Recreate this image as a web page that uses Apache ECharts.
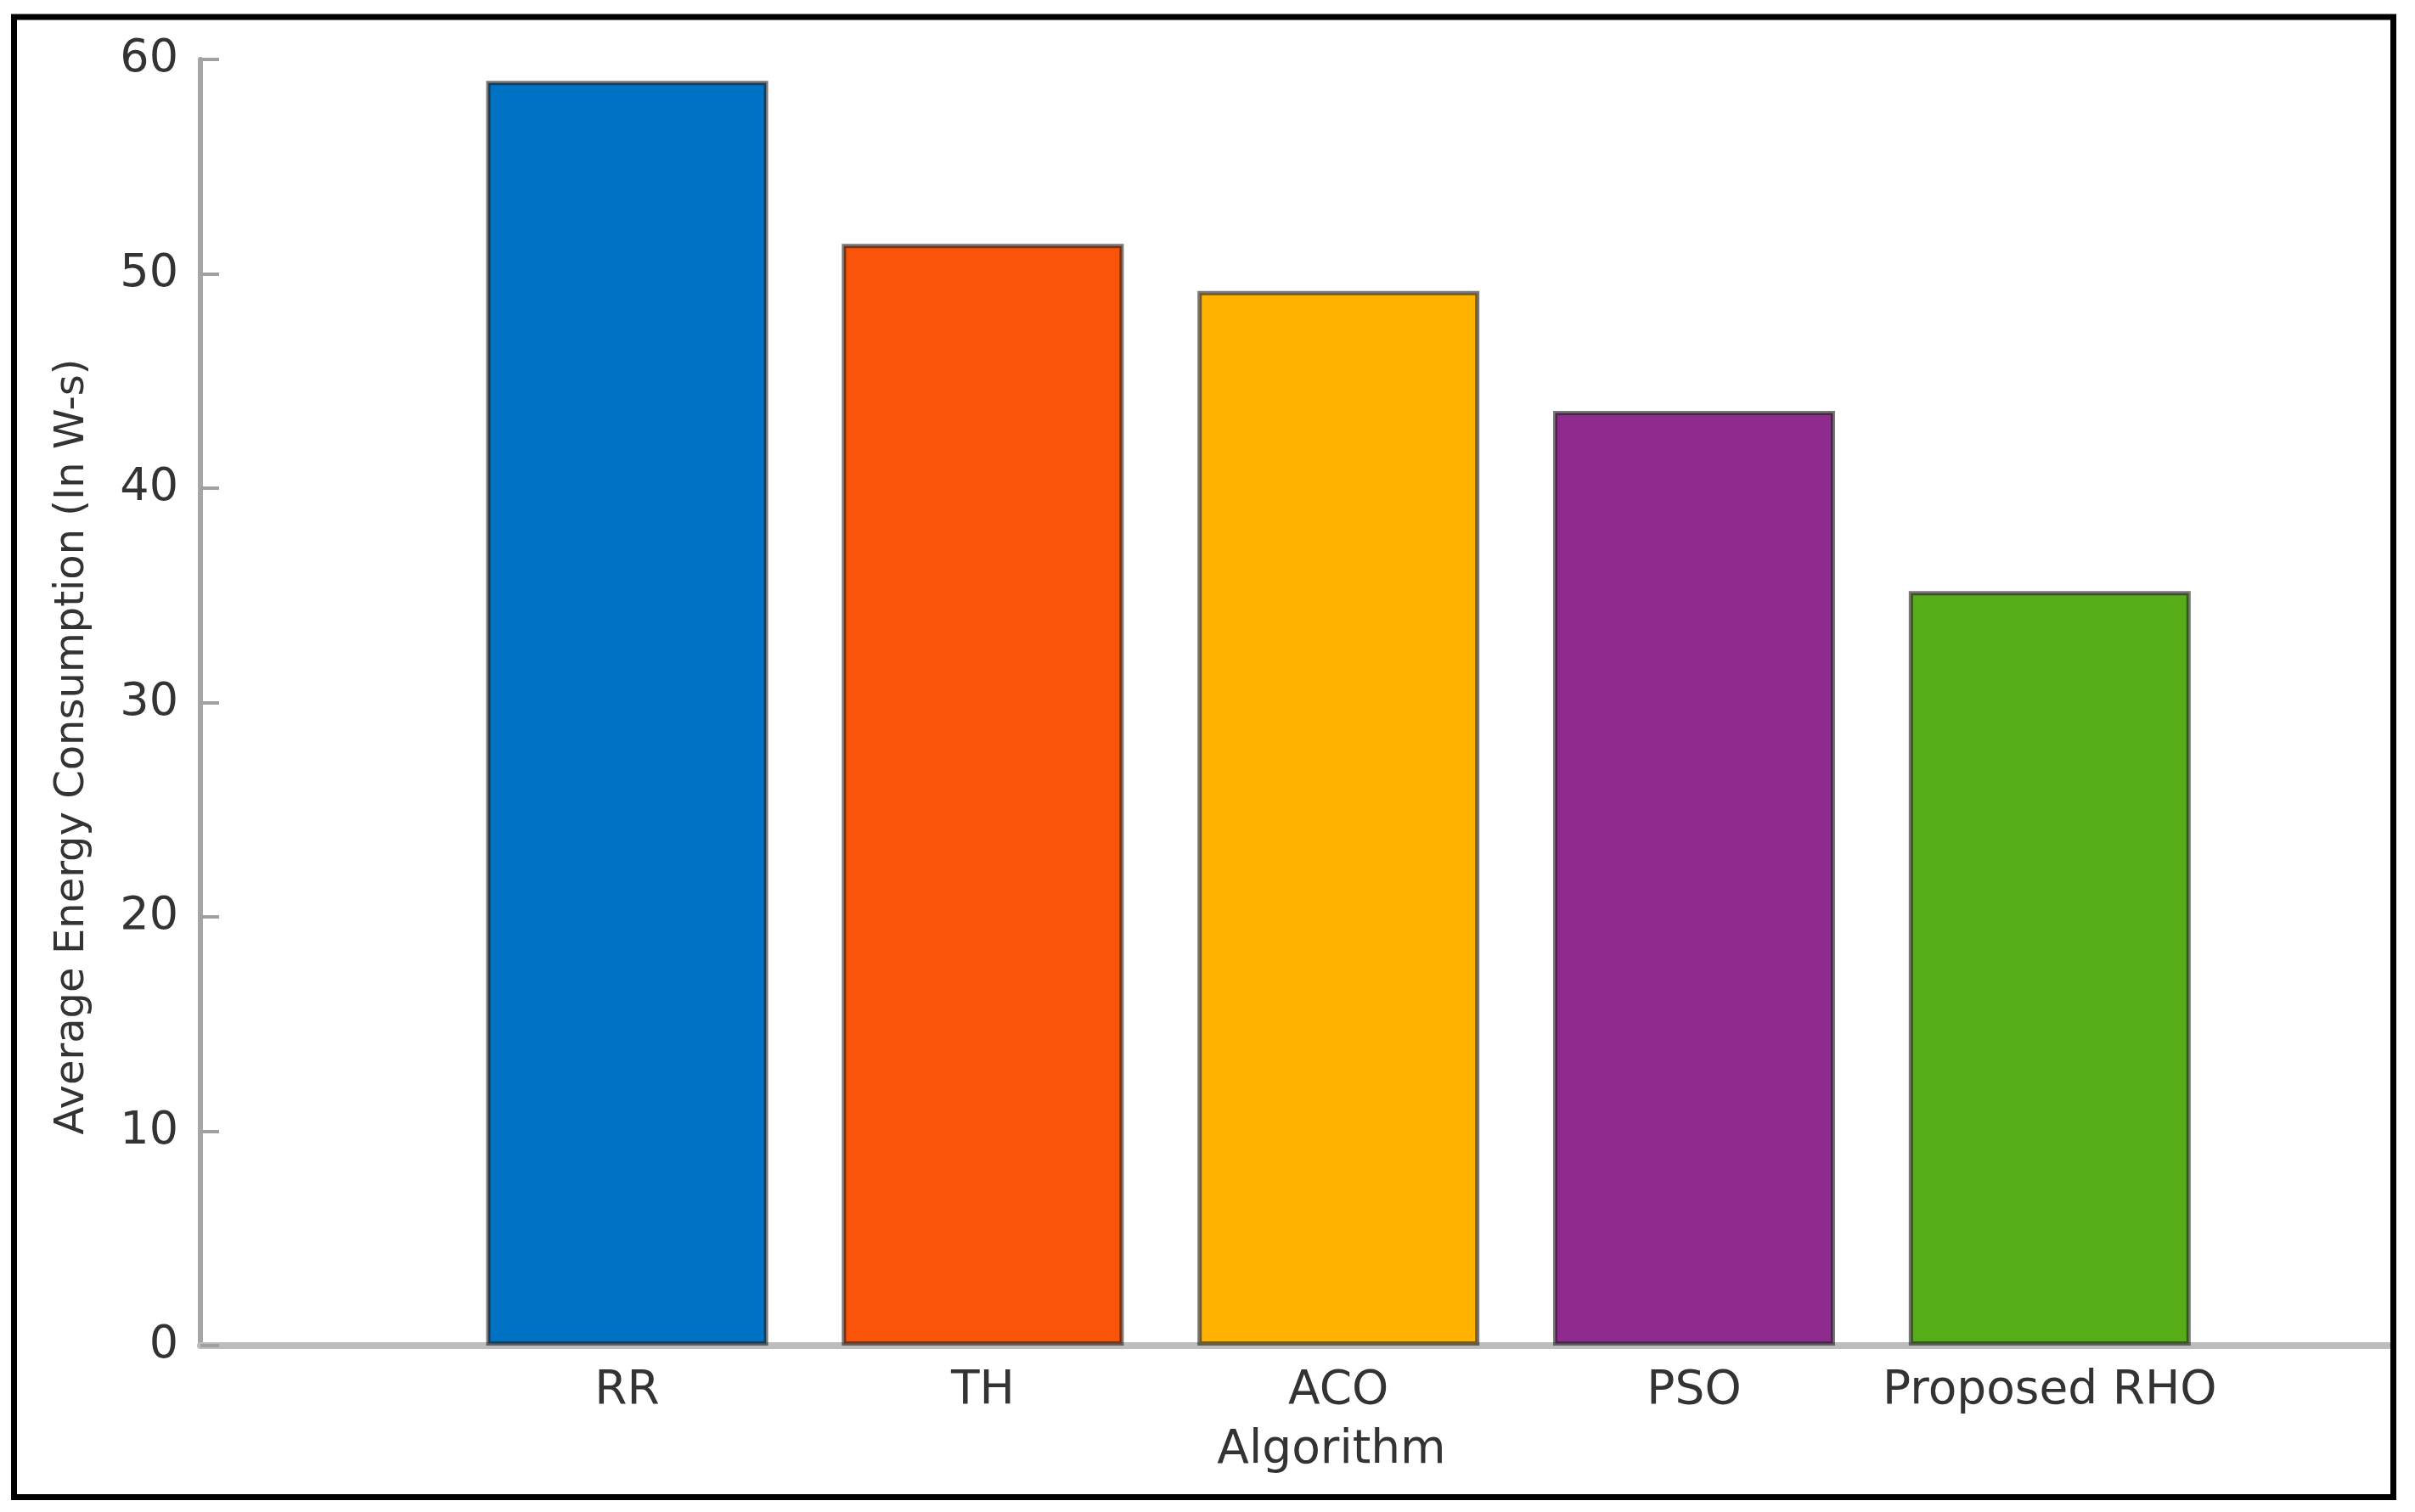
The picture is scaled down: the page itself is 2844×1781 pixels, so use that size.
<!DOCTYPE html>
<html>
<head>
<meta charset="utf-8">
<script src="https://cdn.jsdelivr.net/npm/echarts@6/dist/echarts.min.js"></script>
<style>
  html, body { margin: 0; padding: 0; background: #ffffff; }
  #chart { width: 2844px; height: 1781px; }
</style>
</head>
<body>
<div id="chart"></div>
<script>
// ---- data ----
const categories = ['RR', 'TH', 'ACO', 'PSO', 'Proposed RHO'];
const energy = [59.0, 51.4, 49.2, 43.6, 35.2];
const barColors = ['#0072c3', '#fa540a', '#ffb200', '#8f2b8e', '#57ad18'];
const yTickMin = 0;
const yTickMax = 60;
const yTickStep = 10;
const xTitle = 'Algorithm';
const yTitle = 'Average Energy Consumption (In W-s)';

// ---- chart ----
const FONT = 'DejaVu Sans';
const catPos = categories.map((c, i) => i + 1);
const chart = echarts.init(document.getElementById('chart'), null, { renderer: 'canvas' });

chart.setOption({
  backgroundColor: '#ffffff',
  animation: false,
  grid: { left: 236, right: 26, top: 70, bottom: 196, containLabel: false, outerBoundsMode: 'none' },
  xAxis: {
    type: 'value',
    min: -0.2,
    max: 5.965,
    name: xTitle,
    nameLocation: 'middle',
    nameGap: 96,
    nameTextStyle: { fontFamily: FONT, fontSize: 55, color: '#333333', padding: [0, 0, 0, 82] },
    axisLine: { show: true, onZero: true, lineStyle: { color: '#bdbdbd', width: 8 } },
    axisTick: { show: false },
    splitLine: { show: false },
    axisLabel: {
      customValues: catPos,
      formatter: (v) => categories[Math.round(v) - 1] || '',
      fontFamily: FONT,
      fontSize: 55,
      color: '#333333',
      margin: 26
    }
  },
  yAxis: {
    type: 'value',
    min: yTickMin,
    max: yTickMax,
    interval: yTickStep,
    name: yTitle,
    nameLocation: 'middle',
    nameGap: 126,
    nameTextStyle: { fontFamily: FONT, fontSize: 48, color: '#333333', padding: [0, 104, 0, 0] },
    axisLine: { show: true, onZero: false, lineStyle: { color: '#a6a6a6', width: 6 } },
    axisTick: { show: true, inside: true, length: 22, lineStyle: { color: '#a0a0a0', width: 4 } },
    splitLine: { show: false },
    axisLabel: { fontFamily: FONT, fontSize: 54, color: '#333333', margin: 26 }
  },
  series: [{
    type: 'bar',
    barWidth: 332,
    data: energy.map((v, i) => ({
      value: [catPos[i], v],
      itemStyle: { color: barColors[i] }
    })),
    itemStyle: { borderColor: 'rgba(30,30,30,0.6)', borderWidth: 5 }
  }],
  graphic: [{
    type: 'rect',
    z: 100,
    shape: { x: 16.5, y: 20, width: 2802, height: 1743.5 },
    style: { fill: 'none', stroke: '#000000', lineWidth: 7 }
  }]
});
</script>
</body>
</html>
